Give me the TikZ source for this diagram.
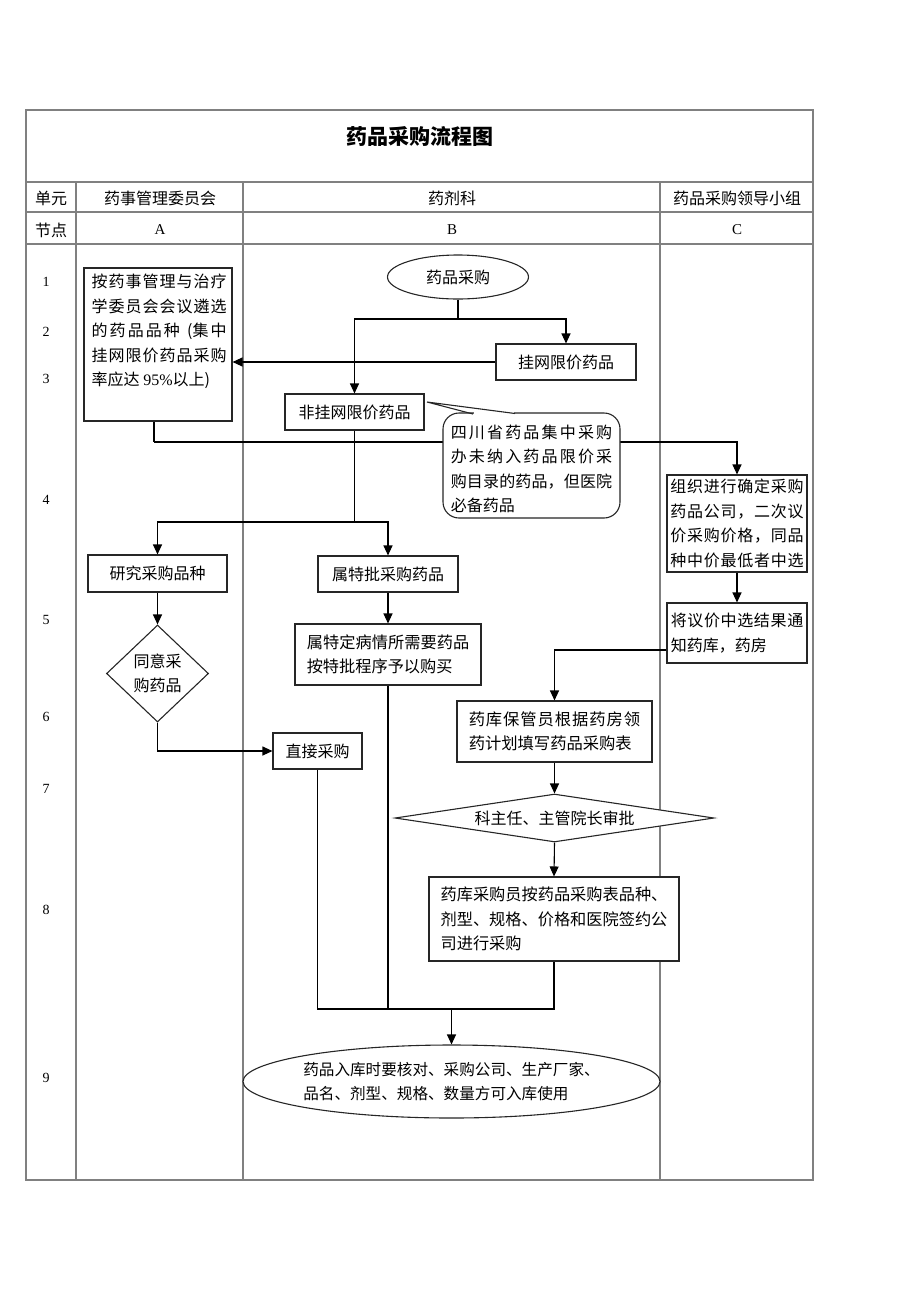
\documentclass[tikz,border=0pt]{standalone}
\usepackage{fontspec}
\setmainfont{Liberation Serif}
\newfontfamily\cjk{Noto Sans CJK SC}
\usetikzlibrary{shapes.geometric,arrows.meta,calc}
\newcount\cjkcnt
\cjkcnt="4E00
\loop \XeTeXcharclass\cjkcnt=1 \advance\cjkcnt by 1 \ifnum\cjkcnt<"A000 \repeat
\XeTeXcharclass"3001=3
\XeTeXcharclass"FF0C=3
\XeTeXinterchartokenstate=1
\XeTeXinterchartoks 1 1 = {\hskip 0pt plus 1pt\relax}
\XeTeXinterchartoks 1 3 = {\hskip 0pt plus 1pt\relax}
\XeTeXinterchartoks 3 1 = {\hskip 0pt plus 1pt\relax}
\hbadness=10000
\newcommand\zh[1][16]{\cjk\fontsize{#1}{24.5}\selectfont}
\newcommand\jline[2]{\hbox to #1{#2}}
\definecolor{tline}{RGB}{128,128,128}
\begin{document}
\begin{tikzpicture}[x=1pt,y=-1pt,
 lane/.style={draw=tline,line width=1.3pt},
 box/.style={draw=black!85,line width=1.1pt,fill=white,inner sep=0pt,align=left,font=\zh},
 ell/.style={box,ellipse},
 dia/.style={box,diamond,align=center},
 conn/.style={draw=black,line width=1.1pt},
 arr/.style={conn,-{Triangle[length=10pt,width=9pt]}},
 hd/.style={inner sep=0pt,font=\zh},
 num/.style={inner sep=0pt,font=\fontsize{14}{14}\selectfont},
 abc/.style={inner sep=0pt,font=\fontsize{15}{15}\selectfont}]
\useasboundingbox (0,0) rectangle (920,1302);
% table
\draw[lane] (26,110) rectangle (813,1180);
\draw[lane] (26,182) -- (813,182) (26,212) -- (813,212) (26,244) -- (813,244);
\draw[lane] (76,182) -- (76,1180) (243,182) -- (243,1180) (660,182) -- (660,1180);
\node[inner sep=0pt,font={\zh[21]\bfseries}] (title) at (420,136) {药品采购流程图};
\node[hd] (h1) at (51,198) {单元};
\node[hd] (h2) at (160,198) {药事管理委员会};
\node[hd] (h3) at (452,198) {药剂科};
\node[hd] (h4) at (737,198) {药品采购领导小组};
\node[hd] (h5) at (51,230) {节点};
\node[abc] (ca) at (160,230) {A};
\node[abc] (cb) at (452,230) {B};
\node[abc] (cc) at (737,230) {C};
\node[num] (r1) at (46,282) {1};
\node[num] (r2) at (46,332) {2};
\node[num] (r3) at (46,379) {3};
\node[num] (r4) at (46,500) {4};
\node[num] (r5) at (46,620) {5};
\node[num] (r6) at (46,717) {6};
\node[num] (r7) at (46,789) {7};
\node[num] (r8) at (46,910) {8};
\node[num] (r9) at (46,1078) {9};
% nodes
\node[box,minimum width=148pt,minimum height=153pt] (a1) at (158,344.5) {};
\node[inner sep=0pt,align=left,font=\zh,anchor=west] (a1t) at (91.5,331.5)
 {\jline{135pt}{按药事管理与治疗}\\\jline{135pt}{学委员会会议遴选}\\\jline{135pt}{的药品品种 (集中}\\\jline{135pt}{挂网限价药品采购}\\率应达 {\rmfamily 95\%}以上)};
\node[ell,minimum width=141pt,minimum height=44pt] (start) at (458,277) {药品采购};
\node[box,minimum width=140pt,minimum height=36pt] (gw) at (566,362) {挂网限价药品};
\node[box,minimum width=139pt,minimum height=36pt] (fgw) at (354.5,412) {非挂网限价药品};
\node[box,minimum width=140pt,minimum height=97pt] (c1) at (737,523.5)
 {\jline{133.5pt}{组织进行确定采购}\\\jline{133.5pt}{药品公司，二次议}\\\jline{133.5pt}{价采购价格，同品}\\\jline{133.5pt}{种中价最低者中选}};
\node[box,minimum width=140pt,minimum height=60pt] (c2) at (737,633)
 {\jline{132.5pt}{将议价中选结果通}\\知药库，药房};
\node[box,minimum width=139pt,minimum height=37pt] (yj) at (157.5,573.5) {研究采购品种};
\node[dia,minimum width=102pt,minimum height=97pt] (dia1) at (157.5,673.5) {同意采\\购药品};
\node[box,minimum width=89pt,minimum height=36pt] (zj) at (317.5,751) {直接采购};
\node[box,minimum width=140pt,minimum height=36pt] (tp) at (388,574) {属特批采购药品};
\node[box,minimum width=186pt,minimum height=61pt,font={\zh[16.2]}] (tb) at (388,654.5)
 {\jline{162.5pt}{属特定病情所需要药品}\\按特批程序予以购买};
\node[box,minimum width=195pt,minimum height=61pt,font={\zh[16.3]}] (b6) at (554.5,731.5)
 {\jline{171.5pt}{药库保管员根据药房领}\\药计划填写药品采购表};
\node[dia,shape aspect=6.6,minimum width=319pt,minimum height=48pt] (dia2) at (554.5,818) {科主任、主管院长审批};
\node[box,minimum width=250pt,minimum height=84pt,font={\zh[16.2]}] (b8) at (554,919)
 {药库采购员按药品采购表品种、\\剂型、规格、价格和医院签约公\\司进行采购};
\node[ell,inner xsep=-12pt,minimum width=417pt,minimum height=73pt,font={\zh[15.6]}] (fin) at (451.5,1081.5)
 {药品入库时要核对、采购公司、生产厂家、\\品名、剂型、规格、数量方可入库使用};
% connectors
\coordinate (j1) at (458,319);
\draw[conn] (start.south) -- (j1);
\draw[arr] (j1) -| (gw.north);
\draw[arr] (j1) -| (fgw.north);
\draw[arr] (gw.west) -- (gw.west -| a1.east);
\coordinate (j2) at (154,442);
\draw[conn] (a1.south -| j2) -- (j2);
\draw[arr] (j2) -| (c1.north);
% callout
\node[box,rounded corners=16pt,minimum width=177pt,minimum height=105pt] (bub) at (531.5,465.5) {};
\node[inner sep=0pt,align=left,font=\zh] (bubt) at (531.5,469)
 {\jline{161.5pt}{四川省药品集中采购}\\\jline{161.5pt}{办未纳入药品限价采}\\\jline{161.5pt}{购目录的药品，但医院}\\必备药品};
\coordinate (tip) at (427,402);
\fill[white] (474,410) rectangle (514,416);
\draw[draw=black!85,line width=1.1pt,line join=miter] (473,414) -- (tip) -- (515,413.5);
\coordinate (j3) at (354.5,522);
\draw[conn] (fgw.south) -- (j3);
\draw[arr] (j3) -| (yj.north);
\draw[arr] (j3) -| (tp.north);
\draw[arr] (yj.south) -- (dia1.north);
\draw[arr] (dia1.south) |- (zj.west);
\draw[arr] (tp.south) -- (tb.north);
\draw[arr] (c1.south) -- (c2.north);
\draw[arr] ($(c2.west)+(0,17)$) -| (b6.north);
\draw[arr] (b6.south) -- (dia2.north);
\draw[arr] (dia2.south) -- (b8.north);
\coordinate (m) at (451.5,1009);
\draw[conn] (zj.south) |- (m) -| (b8.south);
\draw[conn] (tb.south) -- (tb.south |- m);
\draw[arr] (m) -- (fin.north);
\end{tikzpicture}
\end{document}
